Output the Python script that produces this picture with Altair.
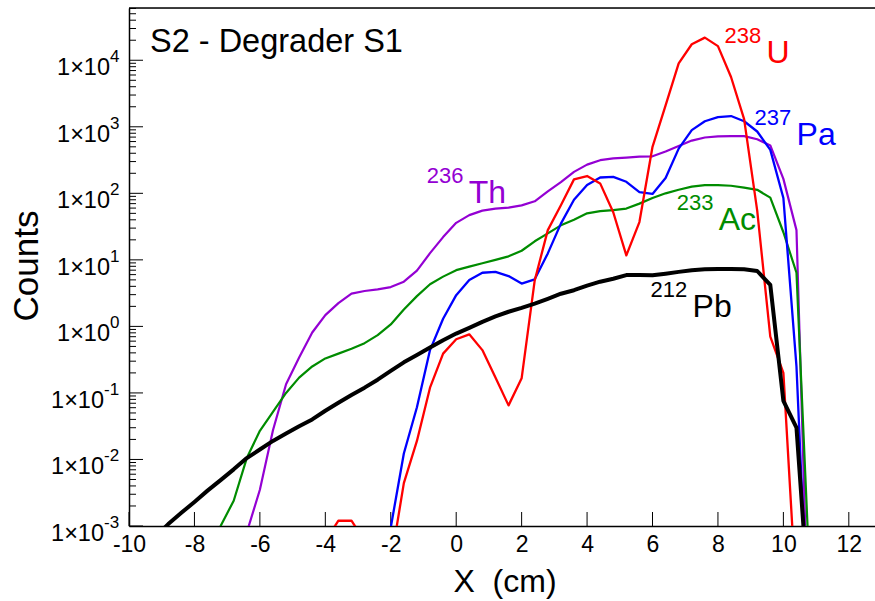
import altair as alt
import pandas as pd

FONT = "Liberation Sans"
W, H = 746, 518

# ---------------- data (x in cm, counts) ----------------
pb_x = [-9.2, -8.8, -8.4, -8.0, -7.6, -7.2, -6.8, -6.4, -6.0, -5.6, -5.2, -4.8, -4.4, -4.0, -3.6,
        -3.2, -2.8, -2.4, -2.0, -1.6, -1.2, -0.8, -0.4, 0.0, 0.4, 0.8, 1.2, 1.6, 2.0, 2.4, 2.8,
        3.2, 3.6, 4.0, 4.4, 4.8, 5.2, 5.6, 6.0, 6.4, 6.8, 7.2, 7.6, 8.0, 8.4, 8.8, 9.2, 9.6,
        10.0, 10.4, 10.8]
pb_y = [0.00068, 0.00107, 0.00158, 0.0023, 0.0034, 0.0049, 0.0071, 0.0105, 0.0141, 0.019, 0.0245,
        0.0316, 0.040, 0.054, 0.071, 0.093, 0.12, 0.158, 0.214, 0.288, 0.37, 0.48, 0.62, 0.78,
        0.95, 1.17, 1.41, 1.66, 1.9, 2.2, 2.6, 3.1, 3.5, 4.1, 4.7, 5.2, 5.9, 5.9, 5.85, 6.2, 6.6,
        7.0, 7.2, 7.3, 7.3, 7.2, 6.8, 4.2, 0.076, 0.030, 0.00005]

u_x = [-4.0, -3.6, -3.2, -2.8, -2.4, -2.0, -1.6, -1.2, -0.8, -0.4, 0.0, 0.4, 0.8, 1.2, 1.6, 2.0,
       2.4, 2.8, 3.2, 3.6, 4.0, 4.4, 4.8, 5.2, 5.6, 6.0, 6.4, 6.8, 7.2, 7.6, 8.0, 8.4, 8.8, 9.2,
       9.6, 10.0, 10.4]
u_y = [0.0006, 0.0012, 0.0012, 0.0006, 0.00001, 0.00028, 0.0044, 0.019, 0.12, 0.39, 0.64, 0.76,
       0.44, 0.17, 0.065, 0.166, 4.9, 28, 66, 162, 182, 141, 52, 11.7, 37, 500, 2100, 9000,
       17400, 21900, 16300, 5600, 1300, 55, 0.7, 0.2, 0.00008]

pa_x = [-2.4, -2.0, -1.6, -1.2, -0.8, -0.4, 0.0, 0.4, 0.8, 1.2, 1.6, 2.0, 2.4, 2.8, 3.2, 3.6, 4.0,
        4.4, 4.8, 5.2, 5.6, 6.0, 6.4, 6.8, 7.2, 7.6, 8.0, 8.4, 8.8, 9.2, 9.6, 10.0, 10.4, 10.8]
pa_y = [0.00001, 0.00095, 0.0123, 0.061, 0.44, 1.3, 2.95, 5.0, 6.4, 6.6, 5.7, 4.4, 5.1, 12.5, 35,
        80, 133, 173, 177, 149, 104, 98, 170, 470, 890, 1210, 1400, 1450, 1210, 850, 450, 85,
        0.25, 0.000008]

th_x = [-6.8, -6.4, -6.0, -5.6, -5.2, -4.8, -4.4, -4.0, -3.6, -3.2, -2.8, -2.4, -2.0, -1.6, -1.2,
        -0.8, -0.4, 0.0, 0.4, 0.8, 1.2, 1.6, 2.0, 2.4, 2.8, 3.2, 3.6, 4.0, 4.4, 4.8, 5.2, 5.6,
        6.0, 6.4, 6.8, 7.2, 7.6, 8.0, 8.4, 8.8, 9.2, 9.6, 10.0, 10.4, 10.8]
th_y = [0.00001, 0.0008, 0.0035, 0.0275, 0.135, 0.34, 0.81, 1.48, 2.24, 3.1, 3.4, 3.6, 3.9, 4.7,
        6.9, 12.6, 22, 36, 47, 55, 59, 61, 66, 76, 107, 147, 210, 270, 315, 335, 345, 355, 360,
        425, 515, 620, 690, 720, 725, 725, 650, 525, 165, 28, 0.000006]

ac_x = [-7.6, -7.2, -6.8, -6.4, -6.0, -5.6, -5.2, -4.8, -4.4, -4.0, -3.6, -3.2, -2.8, -2.4, -2.0,
        -1.6, -1.2, -0.8, -0.4, 0.0, 0.4, 0.8, 1.2, 1.6, 2.0, 2.4, 2.8, 3.2, 3.6, 4.0, 4.4, 4.8,
        5.2, 5.6, 6.0, 6.4, 6.8, 7.2, 7.6, 8.0, 8.4, 8.8, 9.2, 9.6, 10.0, 10.4, 10.8]
ac_y = [0.00001, 0.001, 0.0024, 0.0105, 0.027, 0.052, 0.1, 0.17, 0.25, 0.33, 0.39, 0.46, 0.56,
        0.74, 1.07, 1.8, 2.85, 4.3, 5.6, 7.0, 7.9, 8.9, 10, 11.3, 13.7, 19, 25, 33, 40, 50, 54,
        56, 59, 70, 85, 100, 113, 126, 133, 133, 130, 122, 113, 86, 26, 6.4, 0.0002]

# isotope labels: mass number, symbol, anchor (x cm, counts) of the superscript
lab_mass = ["238", "237", "236", "233", "212"]
lab_sym = ["U", "Pa", "Th", "Ac", "Pb"]
lab_x = [8.20, 9.12, -0.90, 6.74, 5.94]
lab_y = [18200, 1060, 142, 56, 2.75]

y_exps = [-3, -2, -1, 0, 1, 2, 3, 4]
x_ticks = [-10, -8, -6, -4, -2, 0, 2, 4, 6, 8, 10, 12]

# ---------------- styling ----------------
colors = {"236Th": "#9400d3", "233Ac": "#008c00", "237Pa": "#0000ff", "238U": "#ff0000", "212Pb": "#000000"}
widths = {"236Th": 2.2, "233Ac": 2.2, "237Pa": 2.3, "238U": 2.3, "212Pb": 4}
lab_colors = ["#ff0000", "#0000ff", "#9400d3", "#008c00", "#000000"]

xscale = alt.Scale(domain=[-10, 12.8], nice=False, zero=False)
yscale = alt.Scale(type="log", domain=[1e-3, 6.1e4], nice=False)

XAXIS = alt.Axis(values=x_ticks, ticks=False, domain=True, domainColor="black",
                 domainWidth=1.5, labelFont=FONT, labelFontSize=23, labelColor="black",
                 labelPadding=7, labelExpr="'' + datum.value", labelFlush=False,
                 labelOverlap=False, title=None, grid=False)
YAXIS = alt.Axis(labels=False, ticks=False, domain=True, domainColor="black",
                 domainWidth=1.5, grid=False, title=None)


def X(field):
    return alt.X(field, scale=xscale, axis=XAXIS)


def Y(field):
    return alt.Y(field, scale=yscale, axis=YAXIS)


series = [("236Th", th_x, th_y), ("233Ac", ac_x, ac_y), ("237Pa", pa_x, pa_y),
          ("238U", u_x, u_y), ("212Pb", pb_x, pb_y)]

layers = []

# x ticks (inward)
tick_df = pd.DataFrame({"x": x_ticks})
layers.append(alt.Chart(tick_df).mark_rule(color="black", strokeWidth=1).encode(
    x=X("x:Q"), y=alt.value(H), y2=alt.value(H - 14)))

# y ticks (inward)
maj = [10.0 ** e for e in y_exps]
minor = []
for e in range(-3, 5):
    for k in range(2, 10):
        v = k * 10.0 ** e
        if v <= 6.1e4:
            minor.append(v)
layers.append(alt.Chart(pd.DataFrame({"v": maj})).mark_rule(color="black", strokeWidth=1).encode(
    y=Y("v:Q"), x=alt.value(0), x2=alt.value(14)))
layers.append(alt.Chart(pd.DataFrame({"v": minor})).mark_rule(color="black", strokeWidth=1).encode(
    y=Y("v:Q"), x=alt.value(0), x2=alt.value(7)))

# y labels 1x10^n
ylab = pd.DataFrame({"v": maj, "e": [str(e) for e in y_exps], "base": ["1\u00d710"] * len(y_exps)})
pos = alt.Chart(ylab).transform_filter("datum.v >= 1")
neg = alt.Chart(ylab).transform_filter("datum.v < 1")
for ch, xb in [(pos, -19), (neg, -25)]:
    layers.append(ch.mark_text(font=FONT, fontSize=23.5, align="right", baseline="alphabetic",
                               dy=15, color="black").encode(
        y=Y("v:Q"), x=alt.value(xb), text="base:N"))
    layers.append(ch.mark_text(font=FONT, fontSize=17, align="left", baseline="alphabetic",
                               dy=2, color="black").encode(
        y=Y("v:Q"), x=alt.value(xb), text="e:N"))

# data lines
for name, xs, ys in series:
    d = pd.DataFrame({"x": xs, "counts": ys})
    layers.append(alt.Chart(d).mark_line(color=colors[name], strokeWidth=widths[name], clip=True,
                                         strokeJoin="round").encode(
        x=X("x:Q"), y=Y("counts:Q")))

# isotope labels
labs = pd.DataFrame({"mass": lab_mass, "sym": lab_sym, "x": lab_x, "y": lab_y, "c": lab_colors})
layers.append(alt.Chart(labs).mark_text(font=FONT, fontSize=22, align="left",
                                        baseline="alphabetic").encode(
    x=X("x:Q"), y=Y("y:Q"), text="mass:N", color=alt.Color("c:N", scale=None)))
layers.append(alt.Chart(labs).mark_text(font=FONT, fontSize=32, align="left",
                                        baseline="alphabetic", dx=42, dy=20).encode(
    x=X("x:Q"), y=Y("y:Q"), text="sym:N", color=alt.Color("c:N", scale=None)))

# top frame line
layers.append(alt.Chart(pd.DataFrame({"a": [0]})).mark_rule(color="black", strokeWidth=1.5).encode(
    x=alt.value(0), x2=alt.value(W), y=alt.value(0)))


def text_layer(t, x, y, size, **kw):
    return alt.Chart(pd.DataFrame({"t": [t]})).mark_text(font=FONT, fontSize=size, color="black",
                                                          **kw).encode(
        text="t:N", x=alt.value(x), y=alt.value(y))


layers.append(text_layer("S2 - Degrader S1", 21, 44, 32.5, align="left", baseline="alphabetic"))
layers.append(text_layer("X\u00a0\u00a0(cm)", 376, 584, 32, align="center", baseline="alphabetic"))
layers.append(text_layer("Counts", -91, 266 - 8, 35, align="center", baseline="alphabetic", angle=270))

chart = alt.layer(*layers).properties(
    width=W, height=H,
    padding={"left": 129, "top": 8, "right": 0, "bottom": 75},
    autosize=alt.AutoSizeParams(type="none"),
).configure_view(stroke=None).configure(background="white")

chart.save("out.html", embed_options={"renderer": "svg", "actions": False})
